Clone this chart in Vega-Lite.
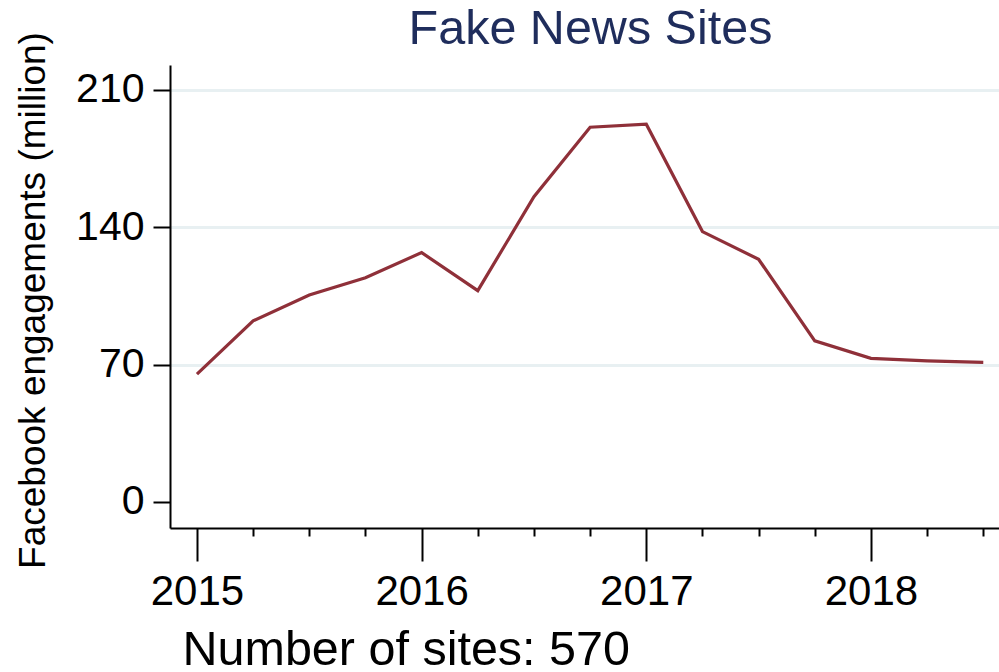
{
  "$schema": "https://vega.github.io/schema/vega-lite/v6.json",
  "autosize": {"type": "none"},
  "padding": {"left": 170, "top": 65, "right": 0, "bottom": 144},
  "width": 829,
  "height": 463,
  "background": "white",
  "config": {
    "view": {"stroke": null},
    "font": "Liberation Sans"
  },
  "title": {
    "text": "Fake News Sites",
    "fontSize": 48.5,
    "fontWeight": "normal",
    "color": "#1f2d5c",
    "font": "Liberation Sans",
    "anchor": "middle",
    "frame": "group",
    "baseline": "alphabetic",
    "offset": 0,
    "dy": 61,
    "dx": 6
  },
  "data": {
    "values": [
      {"t": 2015.0, "v": 65.2},
      {"t": 2015.25, "v": 92.3},
      {"t": 2015.5, "v": 105.5},
      {"t": 2015.75, "v": 114.3},
      {"t": 2016.0, "v": 127.1},
      {"t": 2016.25, "v": 107.7},
      {"t": 2016.5, "v": 155.6},
      {"t": 2016.75, "v": 191.0},
      {"t": 2017.0, "v": 192.5},
      {"t": 2017.25, "v": 137.8},
      {"t": 2017.5, "v": 123.7},
      {"t": 2017.75, "v": 82.1},
      {"t": 2018.0, "v": 73.2},
      {"t": 2018.25, "v": 71.9},
      {"t": 2018.5, "v": 71.2}
    ]
  },
  "mark": {"type": "line", "color": "#8f3039", "strokeWidth": 3.2},
  "encoding": {
    "x": {
      "field": "t",
      "type": "quantitative",
      "scale": {"domain": [2014.88, 2018.57], "nice": false, "zero": false},
      "axis": {
        "values": [2015, 2015.25, 2015.5, 2015.75, 2016, 2016.25, 2016.5, 2016.75, 2017, 2017.25, 2017.5, 2017.75, 2018, 2018.25, 2018.5],
        "labelExpr": "datum.value % 1 === 0 ? format(datum.value, 'd') : ''",
        "tickSize": {"condition": {"test": "datum.value % 1 === 0", "value": 33}, "value": 8},
        "tickWidth": 2,
        "tickColor": "black",
        "domainColor": "black",
        "domainWidth": 2,
        "grid": false,
        "labelFontSize": 42,
        "labelColor": "black",
        "labelPadding": 10,
        "labelBaseline": "top",
        "labelFlush": false,
        "labelOverlap": false,
        "title": "Number of sites: 570",
        "titleFontSize": 48.5,
        "titleFontWeight": "normal",
        "titleColor": "black",
        "titleAnchor": "start",
        "titleAlign": "left",
        "titleBaseline": "alphabetic",
        "titleX": 12,
        "titleY": 136
      }
    },
    "y": {
      "field": "v",
      "type": "quantitative",
      "scale": {"domain": [-13.25, 222.7], "nice": false, "zero": false},
      "axis": {
        "values": [0, 70, 140, 210],
        "tickSize": 17,
        "tickWidth": 2,
        "tickColor": "black",
        "domainColor": "black",
        "domainWidth": 2,
        "grid": true,
        "gridColor": "#e8f0f2",
        "gridWidth": 3,
        "gridOpacity": {"condition": {"test": "datum.value === 0", "value": 0}, "value": 1},
        "labelFontSize": 41,
        "labelColor": "black",
        "labelPadding": 9,
        "labelBaseline": "middle",
        "labelFlush": false,
        "labelOverlap": false,
        "title": "Facebook engagements (million)",
        "titleFontSize": 37,
        "titleFontWeight": "normal",
        "titleColor": "black",
        "titleAngle": -90,
        "titleAlign": "center",
        "titleBaseline": "middle",
        "titleX": -137,
        "titleY": 235
      }
    }
  }
}
